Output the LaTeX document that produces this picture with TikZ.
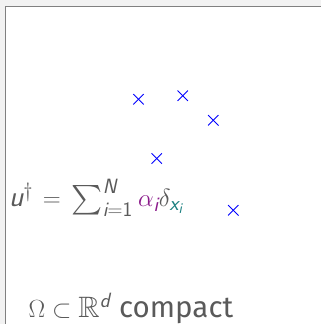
\documentclass[tikz,border=0pt]{standalone}
\usepackage{amsmath,amssymb}
\usepackage{fontspec}
\setsansfont{Fira Sans}
\definecolor{txtgray}{HTML}{5A5A5A}
\definecolor{alphapurple}{HTML}{8B1A8B}
\definecolor{xteal}{HTML}{1A8080}
\definecolor{bggray}{HTML}{F2F2F2}
\definecolor{framegray}{HTML}{808080}
\newcommand{\sv}[1]{\text{\fontfamily{lmss}\itshape #1}}
\newcommand{\sd}[1]{\text{\fontfamily{lmss}\upshape #1}}
\tikzset{
  crossmark/.style={draw=blue, line width=0.9pt},
  label/.style={anchor=base west, inner sep=0pt, text=txtgray, font=\fontsize{29.5}{34}\selectfont}
}
\begin{document}
\begin{tikzpicture}[x=1pt,y=-1pt]
\useasboundingbox (0,0) rectangle (321,324);
\fill[bggray] (0,0) rectangle (321,324);
\fill[white] (5.5,6.5) rectangle (321,324);
\draw[framegray, line width=1.5pt] (5.5,324) -- (5.5,6.5) -- (321,6.5);
% crosses
\foreach \n/\px/\py in {c1/138.5/99.3, c2/182.7/95.7, c3/213.3/120.3, c4/156.7/158.5, c5/233.3/210.3}{
  \coordinate (\n) at (\px,\py);
  \draw[crossmark] ([shift={(-5.2,-5.2)}]\n) -- ([shift={(5.2,5.2)}]\n);
  \draw[crossmark] ([shift={(-5.2,5.2)}]\n) -- ([shift={(5.2,-5.2)}]\n);
}
\node[label] (sumlabel) at (9,206.5) {$\sv{u}^{\dagger}\mkern2mu = \mkern3mu\sum_{\sv{i}=\sd{1}}^{\sv{N}} \mkern1mu{\color{alphapurple}\alpha_{\sv{i}}}\delta_{\color{xteal}\sv{x}_{\sv{i}}}$};
\node[label] (domlabel) at (28.5,317) {$\Omega \subset \mathbb{R}^{\sv{d}}$ \sffamily compact};
\end{tikzpicture}
\end{document}
